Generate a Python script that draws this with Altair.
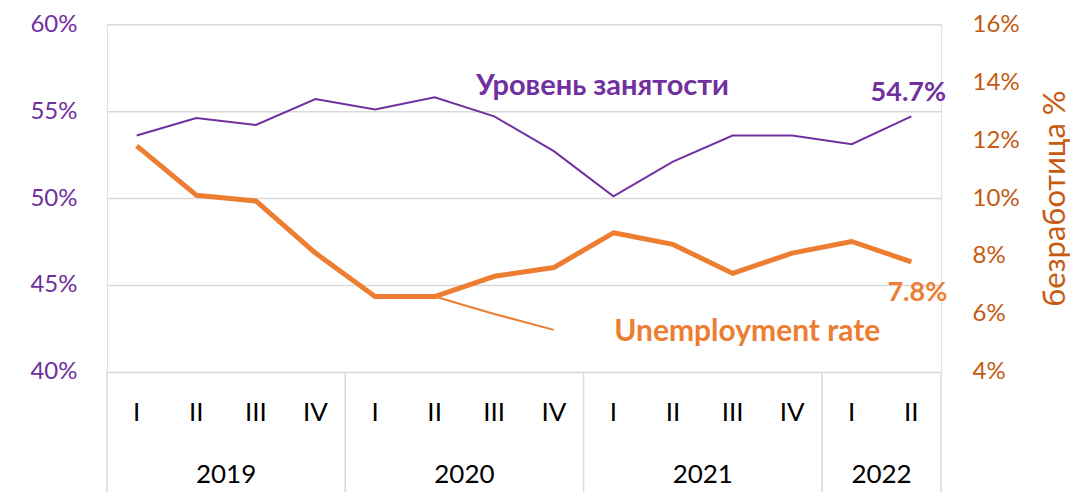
import altair as alt
import pandas as pd

quarters = ["I", "II", "III", "IV", "I", "II", "III", "IV", "I", "II", "III", "IV", "I", "II"]
years = ["2019"] * 4 + ["2020"] * 4 + ["2021"] * 4 + ["2022"] * 2
employment = [53.6, 54.6, 54.2, 55.7, 55.1, 55.8, 54.7, 52.7, 50.1, 52.1, 53.6, 53.6, 53.1, 54.7]
unemployment = [11.8, 10.1, 9.9, 8.1, 6.6, 6.6, 7.3, 7.6, 8.8, 8.4, 7.4, 8.1, 8.5, 7.8]
forecast_idx = [5, 6, 7]
forecast = [6.6, 6.0, 5.45]

PURPLE = "#7030A0"
ORANGE = "#ED7D31"
ORANGE_DK = "#C55A11"
GRID = "#D9D9D9"
FONT = "Lato, 'Open Sans'"

idx = list(range(len(quarters)))
df = pd.DataFrame({"i": idx, "q": quarters, "year": years,
                   "emp": employment, "unemp": unemployment})
fc = pd.DataFrame({"i": forecast_idx, "v": forecast})

# year group centres and boundaries derived from the data
yr = df.groupby("year")["i"].agg(["min", "max"]).reset_index()
yr["c"] = (yr["min"] + yr["max"]) / 2
bounds = pd.DataFrame({"b": [yr["min"].min() - 0.5] + list(yr["max"] + 0.5)})

xs = alt.Scale(domain=[-0.5, len(quarters) - 0.5], nice=False, zero=False)
X = alt.X("i:Q", scale=xs, axis=None)

yl = alt.Y("emp:Q", scale=alt.Scale(domain=[40, 60], nice=False, zero=False),
           axis=alt.Axis(orient="left", values=[40, 45, 50, 55, 60], labelExpr="datum.value + '%'",
                         labelColor=PURPLE, labelFontSize=24, labelFont=FONT, labelPadding=30,
                         ticks=False, domain=False, grid=True, gridColor=GRID, gridWidth=1.5,
                         title=None))

emp_line = alt.Chart(df).mark_line(color=PURPLE, strokeWidth=2).encode(x=X, y=yl)
emp_end = alt.Chart(df).transform_filter(f"datum.i == {len(quarters)-1}").transform_calculate(
    lbl="format(datum.emp, '.1f') + '%'").mark_text(
    color=PURPLE, font=FONT, fontSize=27, fontWeight="bold", dy=-23, dx=-3
).encode(x=X, y="emp:Q", text="lbl:N")
emp_name = alt.Chart(pd.DataFrame({"t": ["Уровень занятости"]})).mark_text(
    color=PURPLE, font=FONT, fontSize=29, fontWeight="bold"
).encode(x=alt.value(496), y=alt.value(62), text="t:N")

q_lbl = alt.Chart(df).mark_text(font=FONT, fontSize=26, color="black").encode(
    x=X, y=alt.value(389), text="q:N")
y_lbl = alt.Chart(yr).mark_text(font=FONT, fontSize=26, color="black").encode(
    x=alt.X("c:Q", scale=xs, axis=None), y=alt.value(451), text="year:N")
seps = alt.Chart(bounds).mark_rule(color=GRID, strokeWidth=1.5).encode(
    x=alt.X("b:Q", scale=xs, axis=None), y=alt.value(348), y2=alt.value(478))

left = alt.layer(seps, emp_line, emp_end, emp_name, q_lbl, y_lbl)

yr_ax = alt.Y("unemp:Q", scale=alt.Scale(domain=[4, 16], nice=False, zero=False),
              axis=alt.Axis(orient="right", values=[4, 6, 8, 10, 12, 14, 16], labelExpr="datum.value + '%'",
                            labelColor=ORANGE_DK, labelFontSize=24, labelFont=FONT, labelPadding=31,
                            ticks=False, domain=False, grid=False,
                            title="безработица %", titleColor=ORANGE_DK, titleFont=FONT,
                            titleFontSize=31, titleFontWeight="normal", titleAngle=270,
                            titlePadding=52))

un_line = alt.Chart(df).mark_line(color=ORANGE, strokeWidth=5, strokeJoin="round").encode(x=X, y=yr_ax)
fc_line = alt.Chart(fc).mark_line(color=ORANGE, strokeWidth=2).encode(
    x=X, y=alt.Y("v:Q"))
un_end = alt.Chart(df).transform_filter(f"datum.i == {len(quarters)-1}").transform_calculate(
    lbl="format(datum.unemp, '.1f') + '%'").mark_text(
    color=ORANGE, font=FONT, fontSize=27, fontWeight="bold", dy=31, dx=6
).encode(x=X, y="unemp:Q", text="lbl:N")
un_name = alt.Chart(pd.DataFrame({"t": ["Unemployment rate"]})).mark_text(
    color=ORANGE, font=FONT, fontSize=30, fontWeight="bold"
).encode(x=alt.value(641), y=alt.value(308), text="t:N")

right = alt.layer(un_line, fc_line, un_end, un_name)

chart = alt.layer(left, right).resolve_scale(y="independent").properties(
    width=835, height=348,
    autosize=alt.AutoSizeParams(type="none"),
    padding={"left": 99, "top": 16, "right": 140, "bottom": 120},
).configure_view(stroke=None).configure(background="white")

chart.save("out.html", embed_options={"renderer": "svg", "actions": False})
